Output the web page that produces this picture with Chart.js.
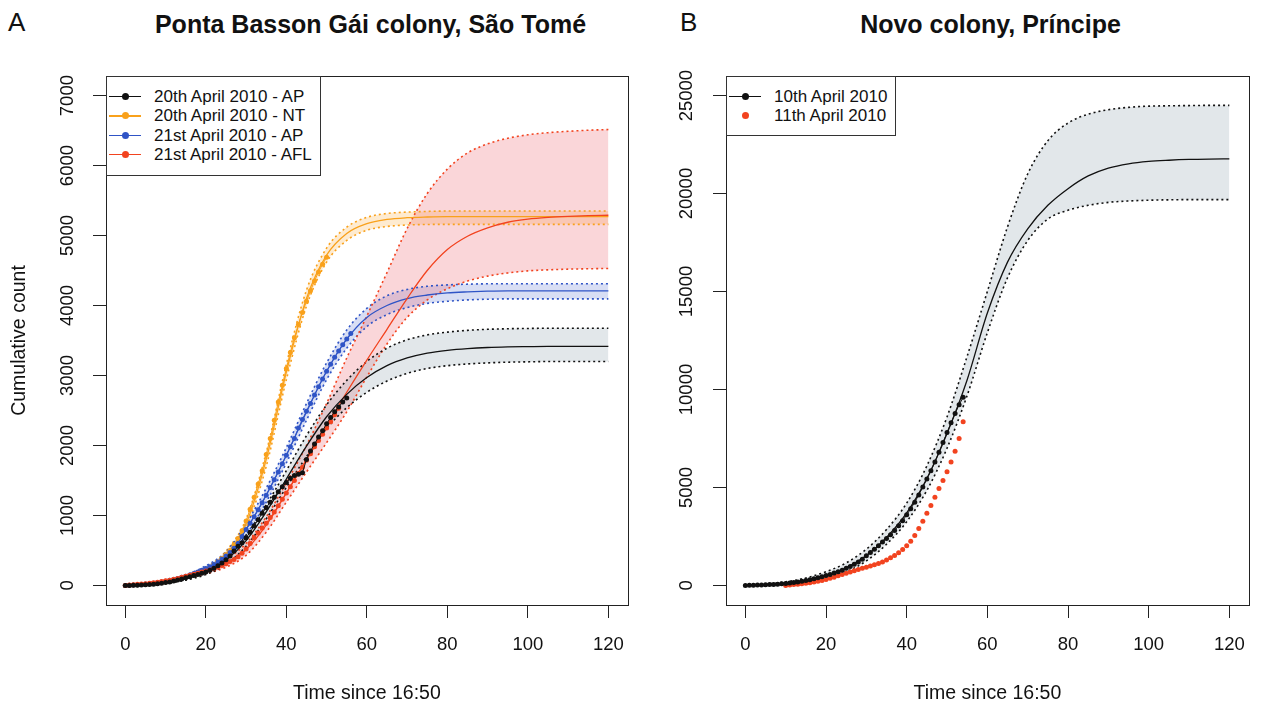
<!DOCTYPE html>
<html>
<head>
<meta charset="utf-8">
<script src="https://cdn.jsdelivr.net/npm/chart.js@4.4.1/dist/chart.umd.min.js"></script>
<style>
  body { margin: 0; background: #fff; width: 1261px; height: 705px; position: relative; overflow: hidden;
         font-family: "Liberation Sans", Arial, sans-serif; color: #111; }
  canvas { position: absolute; top: 0; }
  #chart-a { left: 0; }
  #chart-b { left: 640px; }
  .letter { position: absolute; font-size: 26px; line-height: 26px; top: 9px; }
  .title { position: absolute; font-size: 25px; line-height: 25px; font-weight: bold; text-align: center; top: 12px; }
  .legend { position: absolute; box-sizing: border-box; border: 1px solid #333; background: #fff; }
  .legend-row { position: absolute; left: 0; right: 0; height: 20px; }
  .lg-line { position: absolute; left: 2px; width: 32px; top: 9px; height: 1.3px; }
  .lg-dot { position: absolute; left: 15px; top: 6px; width: 7px; height: 7px; border-radius: 50%; }
  .lg-text { position: absolute; left: 47px; top: 0; font-size: 17px; line-height: 20px; white-space: nowrap; }
</style>
</head>
<body>
<div class="letter" style="left:8px">A</div>
<div class="letter" style="left:680px">B</div>
<div class="title" style="left:0; width:741px">Ponta Basson Gái colony, São Tomé</div>
<div class="title" style="left:726px; width:529px">Novo colony, Príncipe</div>
<canvas id="chart-a" width="640" height="705"></canvas>
<canvas id="chart-b" width="621" height="705"></canvas>
<div class="legend" id="legend-a" style="left:106px; top:76px; width:215px; height:100px"></div>
<div class="legend" id="legend-b" style="left:726px; top:76px; width:170px; height:60px"></div>
<script>
const xTickValues = [0, 20, 40, 60, 80, 100, 120];
const yTicksA = [0, 1000, 2000, 3000, 4000, 5000, 6000, 7000];
const yTicksB = [0, 5000, 10000, 15000, 20000, 25000];

// minutes at which the fitted curves and their bands were read
const fitTimes = [0, 5, 10, 15, 20, 25, 30, 35, 40, 45, 50, 55, 60, 65, 70, 75, 80, 85, 90, 95, 100, 105, 110, 115, 120];

// panel A - observed counts, one per minute starting at minute 0
const ap20Points = [0, 0, 2, 4, 6, 9, 13, 18, 24, 31, 40, 50, 62, 76, 92, 110, 125, 140, 155, 172,
  190, 215, 245, 280, 320, 365, 420, 490, 560, 610, 680, 760, 850, 940, 1030, 1110, 1190, 1260, 1340, 1410,
  1470, 1530, 1570, 1590, 1610, 1800, 1920, 2020, 2120, 2210, 2310, 2400, 2480, 2550, 2620, 2680];
const nt20Points = [0, 2, 5, 8, 12, 16, 22, 28, 34, 42, 50, 62, 75, 90, 105, 120, 140, 160, 180, 205,
  230, 260, 295, 335, 385, 440, 500, 580, 670, 780, 920, 1090, 1260, 1450, 1640, 1870, 2100, 2360, 2620, 2860,
  3100, 3330, 3540, 3730, 3900, 4060, 4210, 4350, 4480, 4590, 4690];
const ap21Points = [0, 3, 6, 10, 14, 19, 25, 32, 40, 50, 60, 72, 85, 100, 115, 132, 150, 170, 192, 215,
  240, 268, 300, 335, 375, 420, 470, 530, 600, 700, 800, 890, 980, 1080, 1180, 1290, 1400, 1510, 1620, 1740,
  1860, 1980, 2100, 2250, 2370, 2490, 2600, 2720, 2840, 2950, 3060, 3160, 3260, 3350, 3440, 3520, 3600];
const afl21Points = [0, 5, 10, 15, 20, 25, 30, 38, 45, 55, 65, 75, 88, 100, 115, 130, 145, 160, 175, 190,
  205, 220, 240, 260, 285, 310, 340, 370, 410, 460, 520, 600, 680, 750, 820, 890, 970, 1050, 1140, 1230,
  1320, 1410, 1500, 1600, 1690, 1790, 1880, 1980, 2070, 2160, 2250, 2340, 2440, 2530];

// panel A - fitted curves with upper and lower bounds
const ap20Fit = [5, 15, 40, 95, 190, 360, 640, 1050, 1520, 1990, 2410, 2730, 2970, 3140, 3250, 3320, 3360, 3385, 3400, 3408, 3412, 3415, 3415, 3415, 3415];
const ap20Upper = [10, 25, 55, 120, 230, 420, 720, 1150, 1640, 2140, 2580, 2930, 3200, 3390, 3510, 3580, 3620, 3645, 3660, 3668, 3672, 3675, 3675, 3675, 3675];
const ap20Lower = [2, 8, 28, 75, 155, 300, 560, 950, 1400, 1840, 2240, 2540, 2760, 2920, 3030, 3100, 3140, 3165, 3180, 3190, 3195, 3200, 3200, 3200, 3200];
const nt20Fit = [5, 18, 45, 110, 230, 450, 880, 1800, 3050, 4100, 4720, 5030, 5170, 5230, 5255, 5265, 5270, 5270, 5270, 5270, 5270, 5270, 5270, 5270, 5270];
const nt20Upper = [10, 25, 55, 125, 255, 490, 950, 1900, 3160, 4220, 4820, 5120, 5260, 5315, 5335, 5345, 5350, 5350, 5350, 5350, 5350, 5350, 5350, 5350, 5350];
const nt20Lower = [2, 12, 35, 95, 205, 410, 820, 1700, 2940, 3990, 4620, 4930, 5075, 5130, 5150, 5158, 5160, 5160, 5160, 5160, 5160, 5160, 5160, 5160, 5160];
const ap21Fit = [5, 20, 55, 125, 240, 420, 800, 1290, 1860, 2480, 3060, 3520, 3830, 4000, 4100, 4150, 4180, 4195, 4205, 4210, 4210, 4210, 4210, 4210, 4210];
const ap21Upper = [10, 30, 70, 150, 280, 480, 880, 1390, 1970, 2600, 3180, 3650, 3960, 4140, 4230, 4275, 4295, 4305, 4310, 4310, 4310, 4310, 4310, 4310, 4310];
const ap21Lower = [2, 12, 40, 100, 200, 360, 720, 1190, 1750, 2360, 2940, 3390, 3700, 3870, 3970, 4030, 4060, 4080, 4090, 4095, 4095, 4095, 4095, 4095, 4095];
const afl21Fit = [10, 25, 60, 120, 200, 310, 510, 860, 1320, 1800, 2280, 2760, 3220, 3660, 4100, 4500, 4800, 4990, 5110, 5190, 5235, 5260, 5275, 5285, 5290];
const afl21Upper = [15, 35, 75, 145, 240, 370, 600, 980, 1470, 2000, 2600, 3250, 3850, 4470, 5100, 5600, 5950, 6180, 6310, 6390, 6440, 6470, 6490, 6505, 6515];
const afl21Lower = [5, 15, 45, 95, 165, 260, 430, 760, 1190, 1620, 2040, 2480, 2980, 3450, 3830, 4080, 4240, 4350, 4420, 4465, 4495, 4510, 4520, 4525, 4530];

// panel B - observed counts, one per minute
const apr10Start = 0;
const apr10Points = [0, 5, 10, 15, 20, 30, 40, 50, 65, 80, 100, 125, 150, 180, 215, 250, 290, 335, 385, 440,
  500, 560, 630, 700, 780, 870, 970, 1080, 1200, 1340, 1520, 1680, 1850, 2030, 2210, 2400, 2590, 2800, 3040, 3300,
  3600, 3910, 4250, 4620, 5020, 5430, 5850, 6300, 6800, 7300, 7800, 8300, 8780, 9220, 9600];
const apr11Start = 10;
const apr11Points = [0, 20, 40, 60, 85, 110, 140, 170, 210, 250, 300, 360, 420, 490, 560, 620, 690, 750, 810, 870,
  930, 990, 1050, 1120, 1200, 1300, 1410, 1530, 1670, 1830, 2020, 2250, 2550, 2900, 3280, 3680, 4080, 4500, 4950, 5350,
  5800, 6300, 6850, 7500, 8350];
const apr10Fit = [0, 40, 110, 260, 520, 900, 1520, 2450, 3700, 5450, 7750, 10500, 13900, 16500, 18200, 19400, 20250, 20900, 21300, 21520, 21640, 21700, 21740, 21760, 21770];
const apr10Upper = [20, 70, 180, 380, 700, 1150, 1850, 2850, 4200, 6100, 8600, 11700, 15000, 18300, 21000, 22700, 23600, 24050, 24280, 24400, 24460, 24480, 24490, 24500, 24500];
const apr10Lower = [0, 20, 70, 180, 380, 700, 1250, 2100, 3250, 4850, 7000, 9700, 12900, 15700, 17600, 18700, 19150, 19400, 19550, 19620, 19660, 19680, 19690, 19690, 19690];

const black = "#111111";
const orange = "#f9a11b";
const blue = "#2f54c6";
const red = "#f2431f";

Chart.defaults.font.family = '"Liberation Sans", Arial, sans-serif';
Chart.defaults.font.size = 18.5;
Chart.defaults.color = "#111";

function pointsOf(start, values) {
  return values.map((v, i) => ({ x: start + i, y: v }));
}

function curveOf(values) {
  return fitTimes.map((t, i) => ({ x: t, y: values[i] }));
}

function bandSets(upper, lower, color, fillColor) {
  const common = {
    borderColor: color,
    borderWidth: 1.6,
    borderDash: [2, 3],
    pointRadius: 0,
    cubicInterpolationMode: 'monotone',
    order: 3
  };
  return [
    Object.assign({ data: curveOf(upper), fill: '+1', backgroundColor: fillColor }, common),
    Object.assign({ data: curveOf(lower), fill: false }, common)
  ];
}

function fitSet(values, color) {
  return {
    data: curveOf(values),
    borderColor: color,
    borderWidth: 1.3,
    pointRadius: 0,
    fill: false,
    cubicInterpolationMode: 'monotone',
    order: 2
  };
}

function pointSet(start, values, color, withLine) {
  return {
    data: pointsOf(start, values),
    borderColor: color,
    borderWidth: 1,
    showLine: withLine,
    pointRadius: 2.5,
    pointBorderWidth: 0,
    pointBackgroundColor: color,
    fill: false,
    order: 1
  };
}

const plotFrame = {
  id: 'plotFrame',
  afterDraw(chart) {
    const { ctx, chartArea } = chart;
    ctx.save();
    ctx.strokeStyle = "#222";
    ctx.lineWidth = 1;
    ctx.strokeRect(Math.round(chartArea.left) + 0.5, Math.round(chartArea.top) + 0.5,
      Math.round(chartArea.right - chartArea.left), Math.round(chartArea.bottom - chartArea.top));
    ctx.restore();
  }
};

function panelOptions(yMin, yMax, yTicks, axisWidth, rightPad, yTickPadding, yTitle) {
  return {
    responsive: false,
    animation: false,
    layout: { padding: { top: 76, right: rightPad, bottom: 0, left: 0 } },
    plugins: {
      legend: { display: false },
      tooltip: { enabled: false },
      filler: { drawTime: 'beforeDatasetsDraw' }
    },
    scales: {
      x: {
        type: 'linear',
        min: -4.8,
        max: 124.8,
        afterBuildTicks: s => { s.ticks = xTickValues.map(v => ({ value: v })); },
        afterFit: s => { s.height = 100; },
        grid: { drawOnChartArea: false, drawTicks: true, tickLength: 13, color: "#222" },
        border: { display: false },
        ticks: { padding: 16, maxRotation: 0, autoSkip: false, color: "#111", callback: v => String(v) },
        title: { display: true, text: 'Time since 16:50', color: "#111", font: { size: 19.5 }, padding: { top: 0, bottom: 0 } }
      },
      y: {
        type: 'linear',
        min: yMin,
        max: yMax,
        afterBuildTicks: s => { s.ticks = yTicks.map(v => ({ value: v })); },
        afterFit: s => { s.width = axisWidth; },
        grid: { drawOnChartArea: false, drawTicks: true, tickLength: 13, color: "#222" },
        border: { display: false },
        ticks: { padding: yTickPadding, minRotation: 90, maxRotation: 90, crossAlign: 'center', autoSkip: false, color: "#111", callback: v => String(v) },
        title: { display: !!yTitle, text: yTitle || '', color: "#111", font: { size: 19.5 }, padding: { top: 8, bottom: 0 } }
      }
    }
  };
}

new Chart(document.getElementById("chart-a").getContext("2d"), {
  type: "line",
  data: {
    datasets: [
      ...bandSets(ap20Upper, ap20Lower, black, "rgba(150,170,180,0.28)"),
      ...bandSets(afl21Upper, afl21Lower, red, "rgba(235,90,105,0.25)"),
      ...bandSets(ap21Upper, ap21Lower, blue, "rgba(60,90,200,0.2)"),
      ...bandSets(nt20Upper, nt20Lower, orange, "rgba(250,165,40,0.22)"),
      fitSet(ap20Fit, black),
      fitSet(afl21Fit, red),
      fitSet(ap21Fit, blue),
      fitSet(nt20Fit, orange),
      pointSet(0, ap20Points, black, true),
      pointSet(0, afl21Points, red, true),
      pointSet(0, ap21Points, blue, true),
      pointSet(0, nt20Points, orange, true)
    ]
  },
  options: panelOptions(-280, 7280, yTicksA, 106, 5, 5, 'Cumulative count'),
  plugins: [plotFrame]
});

new Chart(document.getElementById("chart-b").getContext("2d"), {
  type: "line",
  data: {
    datasets: [
      ...bandSets(apr10Upper, apr10Lower, black, "rgba(150,170,180,0.28)"),
      fitSet(apr10Fit, black),
      pointSet(apr10Start, apr10Points, black, true),
      pointSet(apr11Start, apr11Points, red, false)
    ]
  },
  options: panelOptions(-1000, 26000, yTicksB, 86, 6, 0, null),
  plugins: [plotFrame]
});

function drawLegend(id, items) {
  const box = document.getElementById(id);
  items.forEach((item, i) => {
    const row = document.createElement("div");
    row.className = "legend-row";
    row.style.top = (10 + i * 19.4) + "px";
    if (item.line) {
      const line = document.createElement("span");
      line.className = "lg-line";
      line.style.background = item.color;
      row.appendChild(line);
    }
    const dot = document.createElement("span");
    dot.className = "lg-dot";
    dot.style.background = item.color;
    row.appendChild(dot);
    const text = document.createElement("span");
    text.className = "lg-text";
    text.textContent = item.label;
    row.appendChild(text);
    box.appendChild(row);
  });
}

drawLegend("legend-a", [
  { label: "20th April 2010 - AP", color: black, line: true },
  { label: "20th April 2010 - NT", color: orange, line: true },
  { label: "21st April 2010 - AP", color: blue, line: true },
  { label: "21st April 2010 - AFL", color: red, line: true }
]);
drawLegend("legend-b", [
  { label: "10th April 2010", color: black, line: true },
  { label: "11th April 2010", color: red, line: false }
]);
</script>
</body>
</html>
